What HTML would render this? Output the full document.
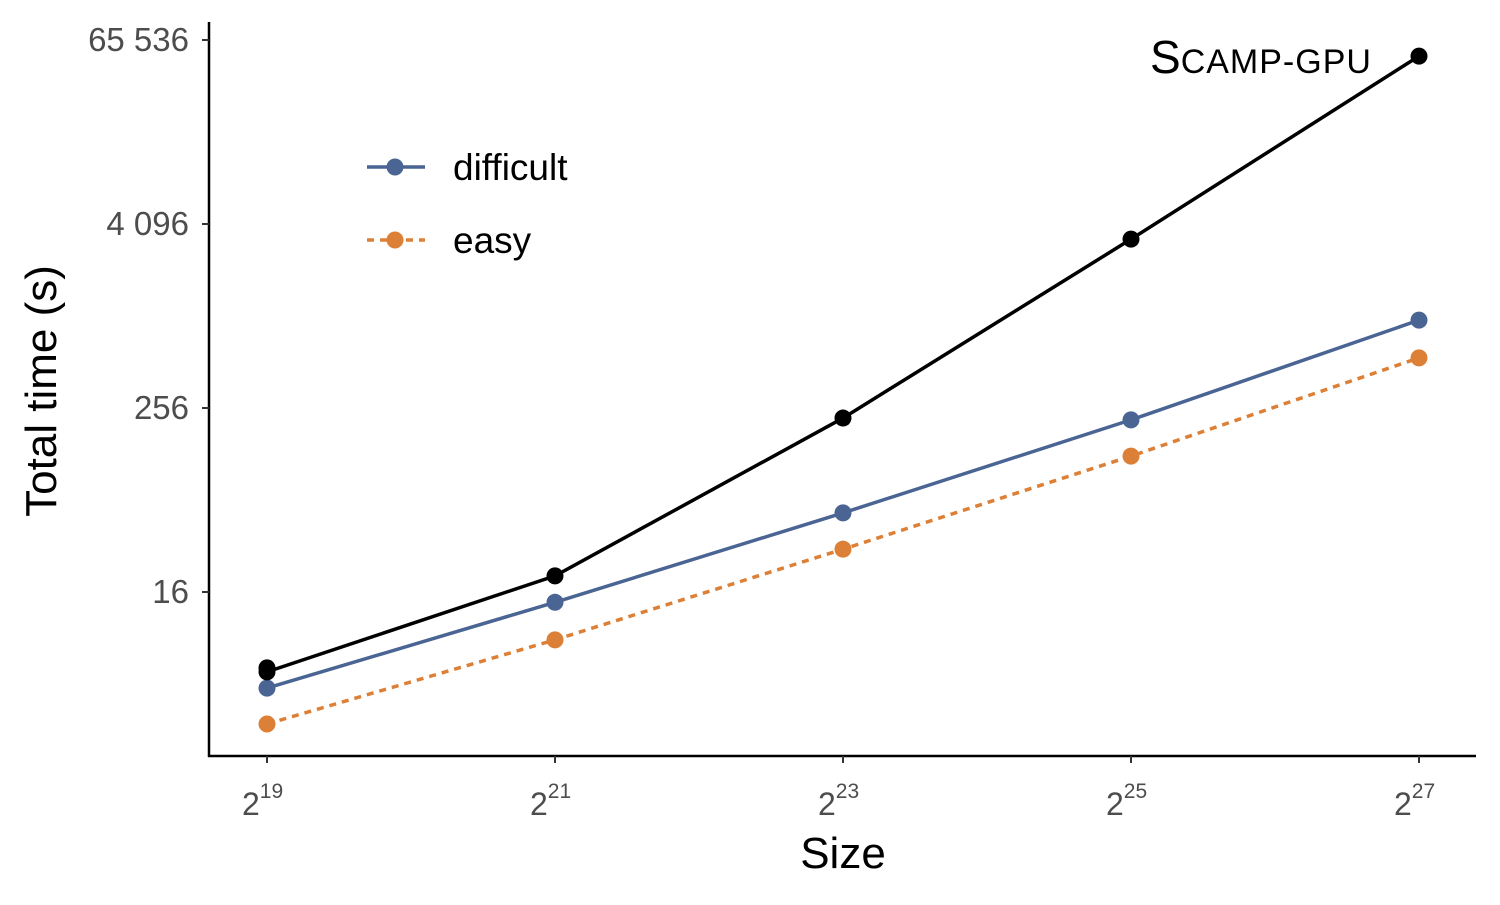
<!DOCTYPE html>
<html><head><meta charset="utf-8"><style>
body{margin:0;background:#fff}
svg{font-family:"Liberation Sans",Arial,sans-serif}
</style></head><body>
<svg id="chart" width="1500" height="900" viewBox="0 0 1500 900">
<g id="axes"></g><g id="marks"></g>
</svg>
<script>
const sizesExp=[19,21,23,25,27];
const seriesNames=["difficult","easy","scamp-gpu"];
const difficultVals=[3.76,13.7,52.7,214,962];
const easyVals=[2.19,7.78,30.5,124,545];
const scampVals=[4.8,20.4,220,3260,51400];
const scampExtra=[5.1];
const yTickExps=[4,8,12,16];
const yTickLabels=["16","256","4 096","65 536"];

const NS="http://www.w3.org/2000/svg";
const xS=e=>267+(e-19)*144;
const yS=v=>592-(Math.log2(v)-4)*46;
const axes=document.getElementById('axes'),marks=document.getElementById('marks');
function mk(tag,attrs,parent,text){const el=document.createElementNS(NS,tag);for(const k in attrs)el.setAttribute(k,attrs[k]);if(text!==undefined)el.textContent=text;parent.appendChild(el);return el;}

let a=mk('line',{x1:209,y1:22,x2:209,y2:757,stroke:'#000','stroke-width':2.5},axes);


a=mk('line',{x1:208,y1:756,x2:1476,y2:756,stroke:'#000','stroke-width':2.5},axes);



yTickExps.forEach((e,i)=>{const y=yS(Math.pow(2,e));
 const t=mk('line',{x1:202,y1:y,x2:209,y2:y,stroke:'#333','stroke-width':2},axes);
 
 
 const l=mk('text',{x:189,y:y+11,'text-anchor':'end','font-size':33,fill:'#4d4d4d'},axes,yTickLabels[i]);
 
 
});
sizesExp.forEach(e=>{const x=xS(e);
 const t=mk('line',{x1:x,y1:756,x2:x,y2:763,stroke:'#333','stroke-width':2},axes);
 
 
 const l=mk('text',{x:x-25,y:815,'font-size':32,fill:'#4d4d4d'},axes);
 
 
 mk('tspan',{},l,'2');
 mk('tspan',{dy:-17,'font-size':21},l,String(e));
});
let tt=mk('text',{x:843,y:868,'text-anchor':'middle','font-size':44,fill:'#000'},axes,'Size');


tt=mk('text',{x:0,y:0,'text-anchor':'middle','font-size':44,fill:'#000',transform:'translate(56,391) rotate(-90)'},axes,'Total time (s)');



function series(vals,color,dash,name){
 const pts=vals.map((v,i)=>xS(sizesExp[i])+','+yS(v)).join(' ');
 const pl=mk('polyline',{points:pts,fill:'none',stroke:color,'stroke-width':3.5,'stroke-dasharray':dash||'none'},marks);
 
 
 vals.forEach((v,i)=>{const c=mk('circle',{cx:xS(sizesExp[i]),cy:yS(v),r:8.5,fill:color},marks);
  
  });
}
series(easyVals,'#dd8037','7 6','easy');
series(difficultVals,'#4a6493',null,'difficult');
series(scampVals,'#000',null,'scamp');
scampExtra.forEach(v=>{const c=mk('circle',{cx:xS(19),cy:yS(v),r:8.5,fill:'#000'},marks);
 
 });

let lg=mk('line',{x1:367,y1:167,x2:425,y2:167,stroke:'#4a6493','stroke-width':3.5},marks);


mk('circle',{cx:395,cy:167,r:8.5,fill:'#4a6493'},marks);
lg=mk('text',{x:453,y:180,'font-size':37,fill:'#000'},marks,seriesNames[0]);


lg=mk('line',{x1:367,y1:240,x2:425,y2:240,stroke:'#dd8037','stroke-width':3.5,'stroke-dasharray':'7 6'},marks);


mk('circle',{cx:395,cy:240,r:8.5,fill:'#dd8037'},marks);
lg=mk('text',{x:453,y:253,'font-size':37,fill:'#000'},marks,seriesNames[1]);



const an=mk('text',{x:1150,y:73,'font-size':46,fill:'#000'},marks);


mk('tspan',{},an,'S');
mk('tspan',{'font-size':34,'letter-spacing':1},an,'CAMP-GPU');
</script>
</body></html>
